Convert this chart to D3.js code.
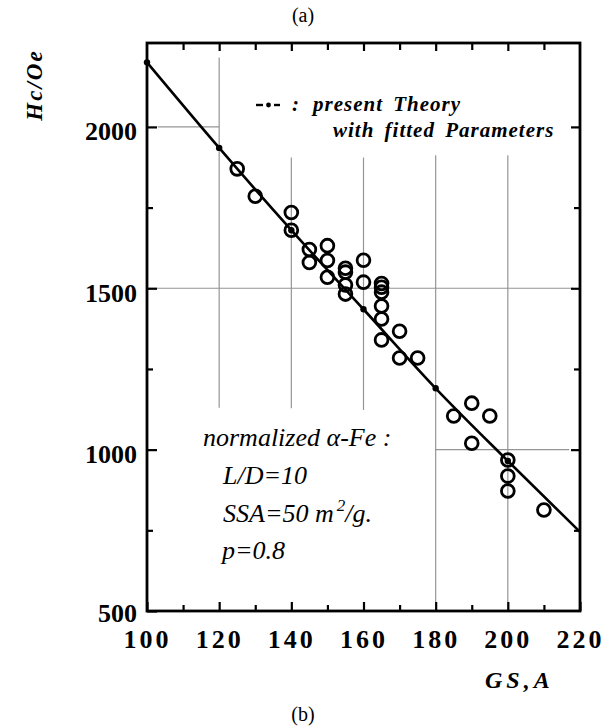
<!DOCTYPE html>
<html>
<head>
<meta charset="utf-8">
<script src="https://cdn.jsdelivr.net/npm/d3@7"></script>
<style>
  body { margin: 0; background: #fff; }
  svg { display: block; }
  .tick-label { font-family: "Liberation Serif", "Times New Roman", serif; font-weight: bold; font-size: 26px; }
  .note { font-family: "Liberation Serif", "Times New Roman", serif; font-style: italic; font-size: 26px; }
  .legend { font-family: "Liberation Serif", "Times New Roman", serif; font-style: italic; font-weight: bold; font-size: 21px; letter-spacing: 1px; word-spacing: 4px; }
</style>
</head>
<body>
<div id="chart"></div>
<script>
// measured points (open circles)
const gsValues = [125, 130, 140, 140, 145, 145, 150, 150, 150, 155, 155, 155, 155,
    160, 160, 165, 165, 165, 165, 165, 165, 170, 170, 175, 185, 190, 190, 195,
    200, 200, 200, 210];
const hcValues = [1870, 1785, 1735, 1680, 1620, 1580, 1632, 1586, 1534, 1562, 1550, 1510, 1482,
    1587, 1519, 1515, 1503, 1488, 1445, 1405, 1340, 1367, 1284, 1284, 1104, 1144, 1020, 1104,
    968, 918, 872, 813];

// present theory with fitted parameters
const theoryGS = [100, 120, 140, 160, 180, 200, 220];
const theoryHc = [2200, 1935, 1680, 1435, 1190, 965, 745];

const xTicks = [100, 120, 140, 160, 180, 200, 220];
const xMinor = [110, 130, 150, 170, 190, 210];
const yTicks = [500, 1000, 1500, 2000];
const yMinor = [750, 1250, 1750];

// partial grid lines (data units)
const gridV = [
    {gs: 120, from: 2215, to: 1130},
    {gs: 140, from: 1905, to: 1128},
    {gs: 160, from: 1905, to: 1123},
    {gs: 180, from: 1912, to: 528},
    {gs: 200, from: 1912, to: 500}
];
const gridH = [
    {hc: 2000, from: 103, to: 120},
    {hc: 1500, from: 100, to: 218},
    {hc: 1000, from: 180, to: 217}
];

const width = 606, height = 727;
const svg = d3.select("#chart").append("svg")
    .attr("width", width)
    .attr("height", height);

const x = d3.scaleLinear().domain([100, 220]).range([147, 580]);
const y = d3.scaleLinear().domain([500, 2260]).range([611, 43]);

// grid
svg.append("g").selectAll("line").data(gridV).join("line")
    .attr("x1", d => x(d.gs)).attr("x2", d => x(d.gs))
    .attr("y1", d => y(d.from)).attr("y2", d => y(d.to))
    .attr("stroke", "#959595").attr("stroke-width", 1.2);
svg.append("g").selectAll("line").data(gridH).join("line")
    .attr("y1", d => y(d.hc)).attr("y2", d => y(d.hc))
    .attr("x1", d => x(d.from)).attr("x2", d => x(d.to))
    .attr("stroke", "#959595").attr("stroke-width", 1.2);

// axes with inward ticks
const fmt = d3.format("d");
const axB = svg.append("g").attr("transform", `translate(0,${y(500)})`)
    .call(d3.axisBottom(x).tickValues(xTicks).tickSize(-9).tickPadding(22).tickFormat(fmt));
svg.append("g").attr("transform", `translate(0,${y(2260)})`)
    .call(d3.axisTop(x).tickValues(xTicks.slice(1, -1)).tickSize(-8).tickFormat(""));
const axL = svg.append("g").attr("transform", `translate(${x(100)},0)`)
    .call(d3.axisLeft(y).tickValues(yTicks).tickSize(-10).tickPadding(10).tickFormat(fmt));
svg.append("g").attr("transform", `translate(${x(220)},0)`)
    .call(d3.axisRight(y).tickValues(yTicks.slice(1)).tickSize(-9).tickFormat(""));

// minor ticks
svg.append("g").attr("transform", `translate(0,${y(500)})`)
    .call(d3.axisBottom(x).tickValues(xMinor).tickSize(-6).tickFormat(""));
svg.append("g").attr("transform", `translate(0,${y(2260)})`)
    .call(d3.axisTop(x).tickValues(xMinor).tickSize(-7).tickFormat(""));
svg.append("g").attr("transform", `translate(${x(100)},0)`)
    .call(d3.axisLeft(y).tickValues(yMinor).tickSize(-6).tickFormat(""));
svg.append("g").attr("transform", `translate(${x(220)},0)`)
    .call(d3.axisRight(y).tickValues(yMinor).tickSize(-6).tickFormat(""));

svg.selectAll(".domain").remove();
svg.selectAll(".tick line").attr("stroke", "#000").attr("stroke-width", 2.2);

axB.selectAll("text").attr("class", "tick-label").attr("fill", "#000")
    .style("letter-spacing", "3px").attr("dy", "0.58em");
axL.selectAll("text").attr("class", "tick-label").attr("fill", "#000")
    .attr("dy", d => d === 500 ? "0.42em" : "0.5em");

// frame
svg.append("rect")
    .attr("x", x(100)).attr("y", y(2260))
    .attr("width", x(220) - x(100)).attr("height", y(500) - y(2260))
    .attr("fill", "none").attr("stroke", "#000").attr("stroke-width", 2.8);

// theory curve
const theory = theoryGS.map((g, i) => ({gs: g, hc: theoryHc[i]}));
svg.append("path").datum(theory)
    .attr("fill", "none").attr("stroke", "#000").attr("stroke-width", 2.6)
    .attr("d", d3.line().x(d => x(d.gs)).y(d => y(d.hc)).curve(d3.curveMonotoneX));
svg.append("g").selectAll("circle").data(theory.slice(0, -1)).join("circle")
    .attr("cx", d => x(d.gs)).attr("cy", d => y(d.hc)).attr("r", 3.2).attr("fill", "#000");

// measured points
const pts = gsValues.map((g, i) => ({gs: g, hc: hcValues[i]}));
svg.append("g").selectAll("circle").data(pts).join("circle")
    .attr("cx", d => x(d.gs)).attr("cy", d => y(d.hc)).attr("r", 6.4)
    .attr("fill", "none").attr("stroke", "#000").attr("stroke-width", 2.8);

// legend
const lg = svg.append("g");
lg.selectAll("line").data([[256, 263], [274, 280]]).join("line")
    .attr("x1", d => d[0]).attr("x2", d => d[1]).attr("y1", 105).attr("y2", 105)
    .attr("stroke", "#000").attr("stroke-width", 2.4);
lg.append("circle").attr("cx", 268.5).attr("cy", 105).attr("r", 2.4).attr("fill", "#000");
lg.append("text").attr("class", "legend").attr("x", 292).attr("y", 111).text(":");
lg.append("text").attr("class", "legend").attr("x", 313).attr("y", 111).text("present Theory");
lg.append("text").attr("class", "legend").attr("x", 333).attr("y", 137).text("with fitted Parameters");

// note
const notes = [
    {t: "normalized α-Fe :", x: 203, y: 446},
    {t: "L/D=10", x: 223, y: 484},
    {t: "SSA=50 m", x: 223, y: 522, sup: "2", rest: "/g."},
    {t: "p=0.8", x: 222, y: 559}
];
notes.forEach(n => {
    const t = svg.append("text").attr("class", "note").attr("x", n.x).attr("y", n.y).text(n.t);
    if (n.sup) {
        t.append("tspan").attr("dy", -11).attr("dx", 3).style("font-size", "17px").text(n.sup);
        t.append("tspan").attr("dy", 11).text(n.rest);
    }
});

// axis titles
svg.append("text")
    .attr("transform", "translate(42,85) rotate(-90)")
    .attr("text-anchor", "middle")
    .style("font-family", "Liberation Serif, serif").style("font-weight", "bold")
    .style("font-style", "italic").style("font-size", "23px").style("letter-spacing", "2px")
    .text("Hc/Oe");
svg.append("text")
    .attr("x", 485).attr("y", 688)
    .style("font-family", "Liberation Serif, serif").style("font-weight", "bold")
    .style("font-style", "italic").style("font-size", "24px").style("letter-spacing", "4px")
    .text("GS,A");

// panel captions
svg.append("text").attr("x", 303).attr("y", 22).attr("text-anchor", "middle")
    .style("font-family", "Liberation Serif, serif").style("font-size", "20px").text("(a)");
svg.append("text").attr("x", 303).attr("y", 721).attr("text-anchor", "middle")
    .style("font-family", "Liberation Serif, serif").style("font-size", "20px").text("(b)");
</script>
</body>
</html>
